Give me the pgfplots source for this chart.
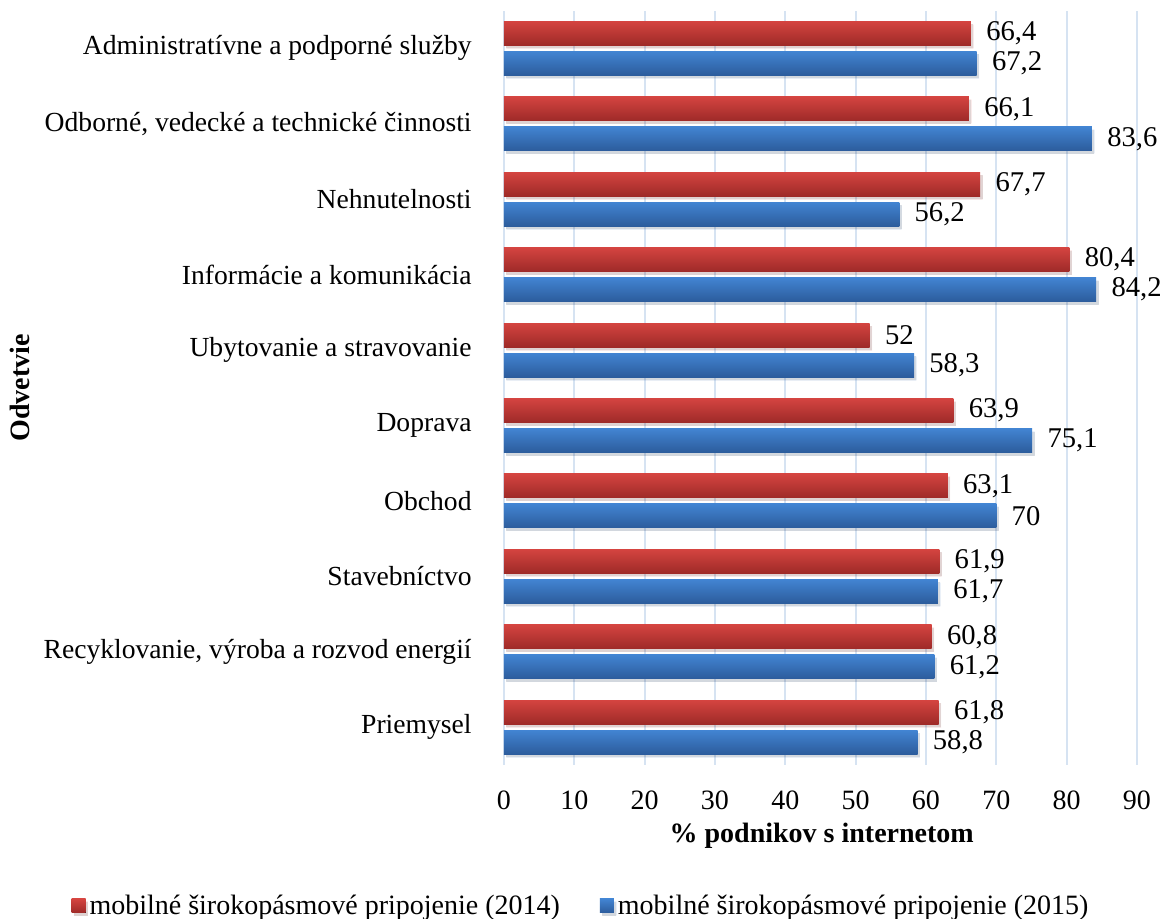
\documentclass[border=0pt]{standalone}
\usepackage{pgfplots}
\pgfplotsset{compat=1.18}
\usepackage{fontspec}
\setmainfont{Liberation Serif}
\definecolor{redtop}{RGB}{212,68,64}
\definecolor{redbot}{RGB}{158,42,40}
\definecolor{bluetop}{RGB}{66,132,210}
\definecolor{bluebot}{RGB}{44,92,156}
\definecolor{gridc}{RGB}{214,227,242}
\pgfplotsset{
  redbar/.style={draw=none, top color=redtop, bottom color=redbot, bar shift=7.5pt,
    preaction={fill=black, opacity=0.10, transform canvas={xshift=1.2pt, yshift=-1.5pt}}},
  bluebar/.style={draw=none, top color=bluetop, bottom color=bluebot, bar shift=-7.5pt,
    preaction={fill=black, opacity=0.10, transform canvas={xshift=1.2pt, yshift=-1.5pt}}},
}
\begin{document}
\begin{tikzpicture}[font=\fontsize{14}{16}\selectfont]
\begin{axis}[
  name=ax, at={(0,0)}, anchor=south west,
  scale only axis, width=316.5pt, height=377.2pt,
  xmin=0, xmax=90, ymin=-0.5, ymax=9.5,
  xbar, bar width=12pt,
  clip=false,
  axis line style={draw=none},
  major tick length=0pt,
  xtick={0,10,...,90},
  xmajorgrids, grid style={gridc, line width=1pt},
  ytick={0,...,9},
  yticklabels={Priemysel,{Recyklovanie, výroba a rozvod energií},Stavebníctvo,Obchod,Doprava,Ubytovanie a stravovanie,Informácie a komunikácia,Nehnutelnosti,{Odborné, vedecké a technické činnosti},Administratívne a podporné služby},
  yticklabel style={anchor=east, inner sep=0pt, xshift=-16pt, font=\fontsize{13.8}{16}\selectfont},
  xticklabel style={anchor=north, inner sep=0pt, yshift=-12.5pt},
  /pgf/number format/assume math mode=true,
  /pgf/number format/use comma,
  xlabel={\textbf{\% podnikov s internetom}},
  xlabel style={at={(axis description cs:0.502,-0.094)}, anchor=center},
  ylabel={\textbf{Odvetvie}},
  ylabel style={at={(axis description cs:-0.765,0.5)}, anchor=center},
  nodes near coords,
  nodes near coords style={anchor=west, inner sep=0pt, xshift=7.5pt, font=\fontsize{14.3}{16}\selectfont},
  legend columns=2,
  legend style={draw=none, at={(axis description cs:0.1232,-0.1868)}, anchor=center, font=\fontsize{14}{16}\selectfont, /tikz/every even column/.append style={column sep=18pt}},
  legend image code/.code={\fill[#1] (0pt,-3.5pt) rectangle (7pt,3.5pt);},
]
\addlegendimage{redbar}
\addlegendentry{mobilné širokopásmové pripojenie (2014)}
\addlegendimage{bluebar}
\addlegendentry{mobilné širokopásmové pripojenie (2015)}
% 2014
\addplot[redbar, forget plot] coordinates {(61.8,0)};
\addplot[redbar, forget plot] coordinates {(60.8,1)};
\addplot[redbar, forget plot] coordinates {(61.9,2)};
\addplot[redbar, forget plot] coordinates {(63.1,3)};
\addplot[redbar, forget plot] coordinates {(63.9,4)};
\addplot[redbar, forget plot] coordinates {(52,5)};
\addplot[redbar, forget plot] coordinates {(80.4,6)};
\addplot[redbar, forget plot] coordinates {(67.7,7)};
\addplot[redbar, forget plot] coordinates {(66.1,8)};
\addplot[redbar, forget plot] coordinates {(66.4,9)};
% 2015
\addplot[bluebar, forget plot] coordinates {(58.8,0)};
\addplot[bluebar, forget plot] coordinates {(61.2,1)};
\addplot[bluebar, forget plot] coordinates {(61.7,2)};
\addplot[bluebar, forget plot] coordinates {(70,3)};
\addplot[bluebar, forget plot] coordinates {(75.1,4)};
\addplot[bluebar, forget plot] coordinates {(58.3,5)};
\addplot[bluebar, forget plot] coordinates {(84.2,6)};
\addplot[bluebar, forget plot] coordinates {(56.2,7)};
\addplot[bluebar, forget plot] coordinates {(83.6,8)};
\addplot[bluebar, forget plot] coordinates {(67.2,9)};
\end{axis}
\pgfresetboundingbox
\path (-252pt,-77pt) rectangle (330pt,382.5pt);
\end{tikzpicture}
\end{document}
